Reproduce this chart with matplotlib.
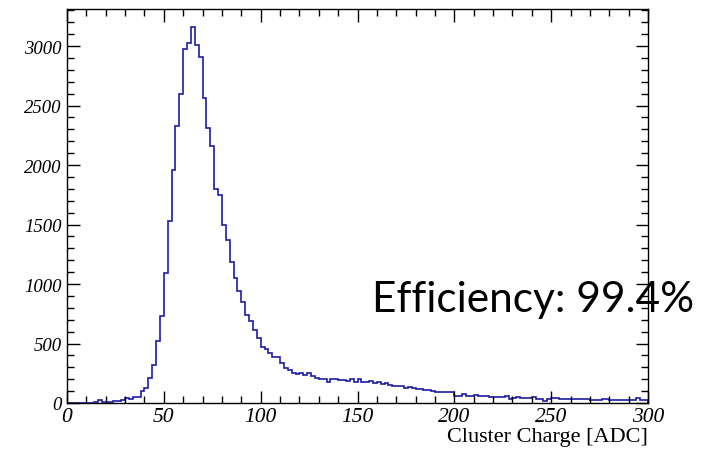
import numpy as np
import matplotlib
matplotlib.use("Agg")
import matplotlib.pyplot as plt
from matplotlib.ticker import MultipleLocator

# ---- data (histogram of cluster charge, 2 ADC bins from 0 to 300) ----
bin_width = 2
x_min, x_max = 0, 300

counts_low = [0, 0, 0, 0, 0, 0, 0, 5, 25, 10, 8, 8, 20, 20, 22, 40, 32, 50, 52,
              100, 128, 210, 322, 518, 734, 1095, 1527, 1958, 2330, 2597]          # 0-60
counts_peak = [2975, 3022, 3160, 3008, 2905, 2560, 2311, 2160, 1798, 1748,
               1496, 1370, 1182, 1053, 939, 846, 740, 690, 610, 544]              # 60-100
counts_mid = [468, 454, 418, 384, 384, 333, 294, 277, 252, 240,
              255, 235, 250, 225, 210, 205, 200, 180, 205, 200,
              190, 195, 185, 200, 180, 200, 175, 180, 185, 170,
              175, 160, 170, 150, 140, 140, 145, 130, 135, 125,
              120, 115, 110, 110, 100, 95, 95, 90, 90, 90]                        # 100-200
counts_tail = [57, 57, 76, 62, 62, 65, 63, 63, 63, 48,
               48, 48, 48, 55, 34, 45, 48, 45, 42, 42,
               50, 34, 34, 15, 34, 38, 38, 34, 34, 30,
               30, 30, 30, 30, 34, 28, 28, 28, 34, 34,
               28, 28, 28, 28, 28, 22, 22, 40, 22, 22]                            # 200-300

counts = counts_low + counts_peak + counts_mid + counts_tail
edges = np.arange(x_min, x_max + bin_width, bin_width)

x_ticks = [0, 50, 100, 150, 200, 250, 300]
y_ticks = [0, 500, 1000, 1500, 2000, 2500, 3000]
y_max = 3311

# ---- figure ----
fig = plt.figure(figsize=(7.08, 4.52), dpi=100)
ax = fig.add_axes([67 / 708, 1 - 404 / 452, (648 - 67) / 708, (404 - 10) / 452])

ax.stairs(counts, edges, color="#1c1ca6", linewidth=1.2, baseline=0)

ax.set_xlim(x_min, x_max)
ax.set_ylim(0, y_max)
ax.set_xticks(x_ticks)
ax.set_yticks(y_ticks)
ax.xaxis.set_minor_locator(MultipleLocator(10))
ax.yaxis.set_minor_locator(MultipleLocator(100))

serif = ["Liberation Serif", "DejaVu Serif"]
ax.tick_params(which="both", direction="in", top=True, right=True,
               width=1.0, color="black")
ax.tick_params(which="major", length=9)
ax.tick_params(which="minor", length=5)
ax.tick_params(axis="x", which="major", pad=3)
ax.tick_params(axis="y", which="major", pad=4)
for lab in ax.get_xticklabels():
    lab.set_family(serif)
    lab.set_style("italic")
    lab.set_fontsize(15.5)
for lab in ax.get_yticklabels():
    lab.set_family(serif)
    lab.set_style("italic")
    lab.set_fontsize(13.5)

for sp in ax.spines.values():
    sp.set_linewidth(1.0)
    sp.set_color("black")

ax.set_xlabel("Cluster Charge [ADC]", family=serif, fontsize=16,
              loc="right", labelpad=0.5)

fig.text(372 / 708, 1 - 300 / 452, "Efficiency: 99.4%", family=["Lato", "DejaVu Sans"],
         fontsize=30.5, ha="left", va="center", color="black")

fig.savefig("out.png", dpi=100)
